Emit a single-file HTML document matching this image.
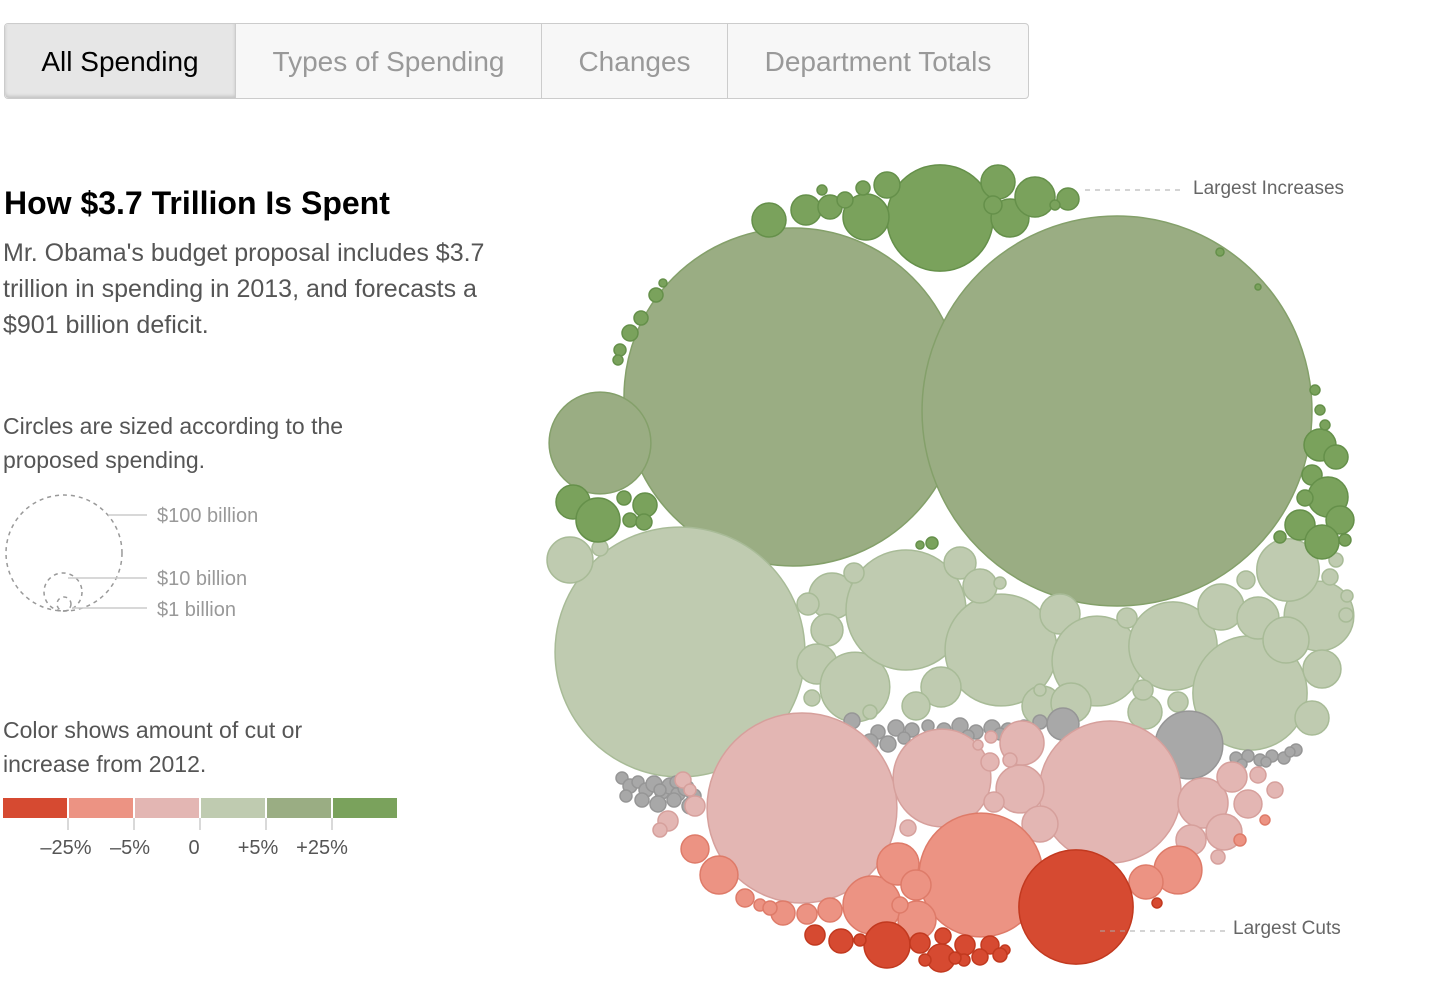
<!DOCTYPE html>
<html><head><meta charset="utf-8">
<style>
html,body{margin:0;padding:0;background:#fff;width:1432px;height:1004px;overflow:hidden;font-family:"Liberation Sans",Arial,sans-serif;}
#tabs{position:absolute;left:4px;top:23px;width:1025px;height:76px;border:1px solid #ccc;border-radius:4px;background:#f7f7f7;display:flex;box-sizing:border-box;}
.tab{height:100%;display:flex;align-items:center;justify-content:center;font-size:28px;color:#999;border-right:1px solid #ccc;box-sizing:border-box;padding-top:2px}
.tab:last-child{border-right:none}
.tab.active{background:#e6e6e6;color:#000;box-shadow:inset 0 -2px 3px rgba(0,0,0,.15);border-radius:4px 0 0 4px;}
.t{position:absolute;color:#555;}
</style></head><body>
<div id="tabs">
 <div class="tab active" style="width:231px">All Spending</div>
 <div class="tab" style="width:306px">Types of Spending</div>
 <div class="tab" style="width:186px">Changes</div>
 <div class="tab" style="width:300px">Department Totals</div>
</div>
<div class="t" style="left:4px;top:185px;font-size:32px;font-weight:bold;color:#000">How $3.7 Trillion Is Spent</div>
<div class="t" style="left:3px;top:235px;font-size:25px;line-height:36px;width:505px">Mr. Obama's budget proposal includes $3.7 trillion in spending in 2013, and forecasts a $901 billion deficit.</div>
<div class="t" style="left:3px;top:409px;font-size:23px;line-height:34px;width:380px">Circles are sized according to the proposed spending.</div>
<div class="t" style="left:3px;top:713px;font-size:23px;line-height:34px;width:380px">Color shows amount of cut or increase from 2012.</div>

<svg id="legend" width="420" height="400" style="position:absolute;left:0;top:480px">
 <g fill="none" stroke="#999" stroke-width="1.5" stroke-dasharray="4,4">
  <circle cx="64" cy="73" r="58"/>
  <circle cx="63" cy="112" r="19"/>
  <circle cx="64" cy="124" r="7"/>
 </g>
 <g stroke="#ccc" stroke-width="1.5">
  <line x1="108" y1="35" x2="147" y2="35"/><line x1="68" y1="98" x2="147" y2="98"/><line x1="72" y1="128" x2="147" y2="128"/>
 </g>
 <g fill="#999" font-size="20">
  <text x="157" y="42">$100 billion</text>
  <text x="157" y="105">$10 billion</text>
  <text x="157" y="136">$1 billion</text>
 </g>
 <g id="colorScale"></g>
</svg>

<svg id="chart" width="1432" height="1004" style="position:absolute;left:0;top:0;pointer-events:none">
 <g id="bubbles" style="pointer-events:auto"></g>
 <g stroke="#aaa" stroke-dasharray="5,5" stroke-width="1">
  <line x1="1085" y1="190" x2="1185" y2="190"/>
  <line x1="1100" y1="931" x2="1225" y2="931"/>
 </g>
 <text x="1193" y="194" font-size="19" fill="#666">Largest Increases</text>
 <text x="1233" y="934" font-size="19" fill="#666">Largest Cuts</text>
</svg>

<script>
// color scale data
const scaleColors=['#d64a31','#ec9383','#e3b6b3','#bfcbb0','#9aad83','#7aa25c'];
const scaleTicks=['–25%','–5%','0','+5%','+25%'];
const breaks=[-25,-5,0,5,25];

// ---- bubble data by group: spending ($bn), change (%), pack position ----
// largest increases (+25% or more)
const upBigV=[84,8.6,10.7,11.9,15.7,5.0,6.7,8.6,4.3,3.6,2.4,1.9,1.46,0.74,0.74,0.48,0.27,
 8.6,14.4,4.3,1.46,1.46,1.9,1.9,1.46,1.46,1.07,0.48,0.74,
 7.6,4.3,3.0,11.9,5.8,6.7,8.6,1.07,1.9,0.74,0.74,0.74,1.07,1.07,0.48];
const upBigChange=[30,28,27,35,30,26,40,30,28,26,30,30,26,30,26,30,26,
 30,28,26,30,30,26,30,26,30,26,30,26,
 30,28,26,30,30,26,28,30,26,30,30,26,30,30,26];
const upBigX=[940,998,1010,1035,866,887,806,769,830,1068,993,845,863,822,1055,1220,1258,
 573,598,645,624,630,644,630,641,656,620,663,618,
 1320,1336,1312,1328,1340,1300,1322,1280,1305,1315,1320,1325,1345,932,920];
const upBigY=[218,182,218,197,217,185,210,220,207,199,205,200,188,190,205,252,287,
 502,520,505,498,520,522,333,318,295,350,283,360,
 445,457,475,497,520,525,542,537,498,390,410,425,540,543,545];
// moderate increases (+5% to +25%)
const upMidV=[849,1130,77];
const upMidChange=[8,9,12];
const upMidX=[793,1117,600];
const upMidY=[397,411,443];
// small increases (0 to +5%)
const upSmallV=[464,15.7,15.7,3.6,7.6,11.9,36,107,7.6,93,11.9,60,58,97,36,29,15.7,13.1,10.7,8.6,15.7,11.9,5.8,11.9,8.6,8.6,11.9,3.0,3.0,3.0,3.0,1.9,1.9,1.46,1.07,1.46,1.07,2.4,1.9,1.46,1.07];
const upSmallChange=[3,2,2,2,2,2,2,2,3,2,2,2,2,2,2,2,2,2,2,2,2,2,2,2,2,2,2,2,2,2,2,2,2,2,2,2,2,2,2,2,2];
const upSmallX=[680,570,832,808,827,817,855,906,960,1001,1060,1097,1173,1250,1319,1288,1221,1258,1322,1312,1286,941,916,1042,980,1145,1071,1143,1178,1127,854,600,1330,1336,1347,1346,1000,1246,812,870,1040];
const upSmallY=[652,560,596,604,630,664,687,610,563,650,614,661,646,693,616,570,607,618,669,718,640,687,706,706,586,712,703,690,702,618,573,548,577,560,596,615,583,580,698,712,690];
// slight cuts (-5% to 0)
const downSmallV=[268,71,150,14.4,17,18.6,9.6,5.8,6.7,9.6,3.0,1.9,3.0,6.7,1.9,1.9,1.46,1.07,0.74,1.46,3.0,1.9,1.46,1.07,2.4];
const downSmallChange=[-2,-3,-2,-2,-3,-2,-2,-2,-2,-2,-2,-2,-2,-2,-2,-2,-2,-2,-2,-2,-2,-2,-2,-2,-2];
const downSmallX=[802,942,1110,1022,1020,1203,1224,1248,1191,1040,668,908,994,1232,1258,1275,1010,991,978,1218,695,683,660,690,990];
const downSmallY=[808,778,792,743,789,803,832,804,840,824,821,828,802,777,775,790,760,737,745,857,806,780,830,790,762];
// moderate cuts (-25% to -5%)
const downMidV=[114,25,10.7,13.1,6.7,17,8.6,10.7,5.8,4.3,3.0,4.3,2.4,1.07,0.74,1.46,1.9,1.07];
const downMidChange=[-10,-8,-12,-10,-9,-11,-10,-10,-8,-12,-10,-10,-8,-10,-10,-10,-10,-10];
const downMidX=[981,872,917,898,916,1178,1146,719,695,783,807,830,745,760,1265,770,900,1240];
const downMidY=[875,905,920,864,885,870,882,875,849,913,914,910,898,905,820,908,905,840];
// largest cuts (-25% or more)
const downBigV=[97,15.7,4.3,3.0,3.0,5.8,3.0,1.9,2.4,1.9,1.07,0.74,0.74,1.07,1.07,1.46,1.07];
const downBigChange=[-30,-28,-30,-26,-30,-35,-30,-28,-30,-26,-30,-30,-30,-30,-30,-30,-30];
const downBigX=[1076,887,841,815,920,941,965,943,990,980,860,1005,1157,964,925,1000,955];
const downBigY=[907,945,941,935,943,958,945,936,945,957,940,950,903,960,960,955,958];
// not available (gray)
const grayV=[34,7.6,1.9,1.9,1.07,1.46,1.07,1.46,1.9,1.46,1.9,1.46,1.9,1.46,1.07,1.46,1.9,1.46,1.9,1.07,1.07,
 1.46,1.9,1.46,1.07,1.46,1.9,1.46,1.9,1.46,1.07,1.46,1.07,1.07,1.07,1.07,1.9,
 1.07,1.07,1.07,1.07,1.07,1.07,0.74,0.74,0.74];
const grayX=[1189,1063,852,888,622,630,638,646,654,662,670,678,686,694,626,642,658,674,690,660,676,
 878,896,912,928,944,960,976,992,1008,1024,1040,904,936,968,1000,870,
 1236,1248,1260,1272,1284,1296,1242,1266,1290];
const grayY=[745,724,721,744,778,786,782,790,784,792,786,794,788,796,796,800,804,800,806,790,782,
 732,728,730,726,730,726,732,728,730,726,722,738,738,736,734,742,
 758,756,760,756,758,750,764,762,752];

const strokes=['#c2391f','#de7b69','#d6a09c','#a8bb97','#84a06a','#65904a'];
function rScale(v){return 5.8*Math.sqrt(v);}
function bucket(c){let i=0;while(i<breaks.length&&c>breaks[i])i++;return i;}
const NS='http://www.w3.org/2000/svg';
const g=document.getElementById('bubbles');
function circle(x,y,v,c){
 const el=document.createElementNS(NS,'circle');
 el.setAttribute('cx',x);el.setAttribute('cy',y);el.setAttribute('r',rScale(v));
 if(c===null){el.setAttribute('fill','#a8a8a8');el.setAttribute('stroke','#969696');}
 else{const b=bucket(c);el.setAttribute('fill',scaleColors[b]);el.setAttribute('stroke',strokes[b]);}
 el.setAttribute('stroke-width','1.5');
 
 
 g.appendChild(el);
}
function drawGroup(V,C,X,Y){V.forEach((v,i)=>circle(X[i],Y[i],v,C?C[i]:null));}
drawGroup(upMidV,upMidChange,upMidX,upMidY);
drawGroup(upSmallV,upSmallChange,upSmallX,upSmallY);
drawGroup(grayV,null,grayX,grayY);
drawGroup(downSmallV,downSmallChange,downSmallX,downSmallY);
drawGroup(downMidV,downMidChange,downMidX,downMidY);
drawGroup(downBigV,downBigChange,downBigX,downBigY);
drawGroup(upBigV,upBigChange,upBigX,upBigY);

const cs=document.getElementById('colorScale');
scaleColors.forEach((c,i)=>{
 const r=document.createElementNS(NS,'rect');
 r.setAttribute('x',3+i*66);r.setAttribute('y',318);r.setAttribute('width',64);r.setAttribute('height',20);r.setAttribute('fill',c);
 
 
 cs.appendChild(r);
});
const labelShift=[-2,-4,-6,-8,-10];
scaleTicks.forEach((t,i)=>{
 const x=68+i*66;
 const l=document.createElementNS(NS,'line');
 l.setAttribute('x1',x);l.setAttribute('x2',x);l.setAttribute('y1',338);l.setAttribute('y2',350);l.setAttribute('stroke','#ccc');l.setAttribute('stroke-width','1.5');
 cs.appendChild(l);
 const tx=document.createElementNS(NS,'text');
 tx.setAttribute('x',x+labelShift[i]);tx.setAttribute('y',374);tx.setAttribute('text-anchor','middle');
 tx.setAttribute('font-size','20');tx.setAttribute('fill','#555');tx.textContent=t;
 
 
 cs.appendChild(tx);
});
</script>
</body></html>
